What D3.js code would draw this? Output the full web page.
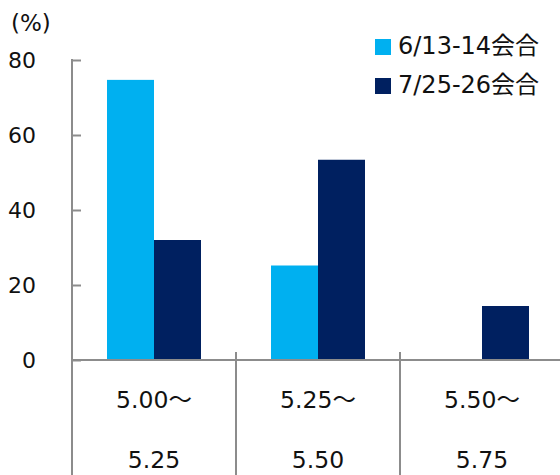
<!DOCTYPE html>
<html><head><meta charset="utf-8">
<script src="https://cdn.jsdelivr.net/npm/d3@7"></script>
<style>
html,body{margin:0;padding:0;background:#fff;}
svg{display:block;}
text{font-family:"DejaVu Sans","Noto Sans CJK JP",sans-serif;fill:#111;}
</style></head>
<body><svg id="c" width="560" height="475"></svg>
<script>
const categories = [["5.00～","5.25"],["5.25～","5.50"],["5.50～","5.75"]];
const seriesNames = ["6/13-14会合","7/25-26会合"];
const seriesJune = [74.7, 25.2, 0];
const seriesJuly = [32.0, 53.4, 14.4];
const yTicks = [0,20,40,60,80];
const colors = ["#00B0F0","#002060"];

const svg = d3.select("#c");
const x0 = 72, y0 = 360, yTop = 60;
const y = d3.scaleLinear().domain([0,80]).range([y0,yTop]);
const xg = d3.scaleBand().domain(d3.range(categories.length)).range([x0, x0+164*3]).paddingInner(0).paddingOuter(0);
const xs = d3.scaleBand().domain(d3.range(seriesNames.length)).range([35,129]).padding(0);
const axisColor = "#8c8c8c";

const data = [seriesJune, seriesJuly];
data.forEach((vals, si) => {
  svg.append("g").selectAll("rect").data(vals).join("rect")
    .attr("x", (d,i)=> xg(i)+xs(si))
    .attr("width", xs.bandwidth())
    .attr("y", d=> y(d))
    .attr("height", d=> y0 - y(d))
    .attr("fill", colors[si]);
});

const yAxis = d3.axisRight(y).tickValues(yTicks).tickSize(9).tickFormat("");
const ga = svg.append("g").attr("transform",`translate(${x0},0)`).call(yAxis);
ga.select(".domain").remove();
ga.selectAll("line").attr("stroke",axisColor).attr("stroke-width",2);
svg.append("line").attr("x1",x0).attr("x2",x0).attr("y1",yTop-1).attr("y2",475)
  .attr("stroke",axisColor).attr("stroke-width",2);
svg.append("g").selectAll("text").data(yTicks).join("text")
  .attr("x",36).attr("y",d=>y(d)).attr("dy","0.36em")
  .attr("text-anchor","end").attr("font-size",22).text(d=>d);
svg.append("text").attr("x",11).attr("y",23).attr("dy","0.36em").attr("font-size",23).text("(%)");

svg.append("line").attr("x1",x0).attr("x2",560).attr("y1",y0).attr("y2",y0)
  .attr("stroke",axisColor).attr("stroke-width",2);
svg.append("g").selectAll("line").data(d3.range(1,categories.length)).join("line")
  .attr("x1",d=>xg(d)).attr("x2",d=>xg(d)).attr("y1",352).attr("y2",475)
  .attr("stroke",axisColor).attr("stroke-width",2);
const cl = svg.append("g").selectAll("g").data(categories).join("g")
  .attr("transform",(d,i)=>`translate(${xg(i)+xg.bandwidth()/2},0)`);
cl.append("text").attr("y",400).attr("dy","0.36em").attr("text-anchor","middle").attr("font-size",23.5).text(d=>d[0]);
cl.append("text").attr("y",460).attr("dy","0.36em").attr("text-anchor","middle").attr("font-size",23.5).text(d=>d[1]);

const lg = svg.append("g").selectAll("g").data(seriesNames).join("g")
  .attr("transform",(d,i)=>`translate(375,${39+i*39})`);
lg.append("rect").attr("width",16).attr("height",16).attr("fill",(d,i)=>colors[i]);
lg.append("text").attr("x",23).attr("y",6).attr("dy","0.36em").attr("font-size",24).text(d=>d);
</script></body></html>
